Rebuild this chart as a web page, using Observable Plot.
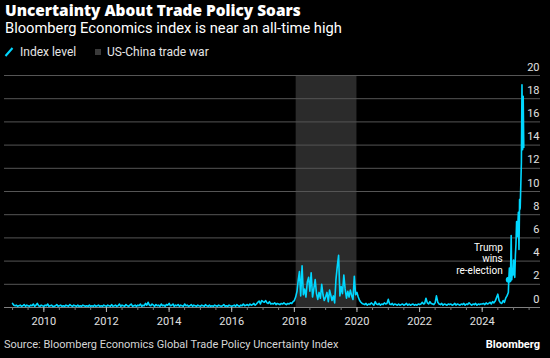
<!DOCTYPE html>
<html><head><meta charset="utf-8">
<script src="https://cdn.jsdelivr.net/npm/d3@7"></script>
<script src="https://cdn.jsdelivr.net/npm/@observablehq/plot@0.6"></script>
<style>
html,body{margin:0;padding:0;background:#000;}
#root{position:relative;width:550px;height:358px;background:#000;overflow:hidden;font-family:Roboto,"Noto Sans",sans-serif;color:#fff;}
.t{position:absolute;white-space:nowrap;}
#title{left:5px;top:2px;font-family:"Open Sans",Roboto,sans-serif;font-size:15.4px;font-weight:800;line-height:18px;}
#sub{left:5px;top:20px;font-size:14.7px;line-height:17px;}
.leg{top:45px;font-size:12px;line-height:14px;color:#e6e6e6;}
#chart{position:absolute;left:0;top:62px;}
#source{left:4px;top:338px;font-size:11px;line-height:13px;color:#d6d6d6;}
#brand{right:10px;top:338px;font-size:11px;line-height:13px;font-weight:700;color:#fff;}
</style></head>
<body>
<div id="root">
  <div id="title" class="t">Uncertainty About Trade Policy Soars</div>
  <div id="sub" class="t">Bloomberg Economics index is near an all-time high</div>
  <svg class="t" style="left:4px;top:47px" width="10" height="10"><line x1="1.5" y1="9" x2="8.5" y2="1" stroke="#00d7ff" stroke-width="2"/></svg>
  <div class="t leg" style="left:20px">Index level</div>
  <div class="t" style="left:95px;top:49px;width:6px;height:6px;background:#3a3a3a"></div>
  <div class="t leg" style="left:107px">US-China trade war</div>
  <div id="chart"></div>
  <div id="source" class="t">Source: Bloomberg Economics Global Trade Policy Uncertainty Index</div>
  <div id="brand" class="t">Bloomberg</div>
</div>
<script>
// Semi-monthly readings (1st and 16th of each month)
const v2009 = [0.35,0.2,0.15,0.2,0.1,0.15,0.2,0.1,0.15,0.25,0.1,0.2,0.15,0.1,0.2,0.15,0.3,0.1,0.2,0.35,0.15,0.1,0.2,0.15];
const v2010 = [0.1,0.2,0.15,0.3,0.1,0.15,0.2,0.1,0.1,0.15,0.25,0.1,0.15,0.2,0.1,0.15,0.1,0.2,0.15,0.1,0.25,0.15,0.1,0.2];
const v2011 = [0.15,0.1,0.2,0.1,0.15,0.1,0.2,0.15,0.1,0.15,0.1,0.2,0.1,0.15,0.1,0.2,0.1,0.15,0.2,0.1,0.15,0.1,0.2,0.15];
const v2012 = [0.1,0.2,0.15,0.1,0.25,0.1,0.15,0.2,0.1,0.15,0.3,0.1,0.2,0.15,0.1,0.25,0.15,0.1,0.2,0.3,0.1,0.15,0.2,0.1];
const v2013 = [0.2,0.15,0.3,0.1,0.2,0.15,0.35,0.2,0.45,0.2,0.15,0.3,0.2,0.1,0.25,0.15,0.2,0.1,0.3,0.15,0.2,0.1,0.25,0.2];
const v2014 = [0.35,0.15,0.2,0.3,0.1,0.2,0.15,0.25,0.1,0.2,0.15,0.1,0.3,0.15,0.2,0.1,0.15,0.25,0.1,0.2,0.15,0.1,0.2,0.15];
const v2015 = [0.1,0.2,0.15,0.1,0.25,0.15,0.1,0.2,0.1,0.15,0.1,0.2,0.15,0.1,0.2,0.15,0.1,0.15,0.25,0.1,0.15,0.1,0.2,0.15];
const v2016 = [0.1,0.15,0.2,0.1,0.25,0.15,0.1,0.2,0.15,0.3,0.15,0.2,0.25,0.15,0.3,0.2,0.25,0.35,0.2,0.3,0.45,0.55,0.3,0.6];
const v2017 = [0.5,0.45,0.6,0.4,0.35,0.5,0.3,0.35,0.3,0.4,0.25,0.35,0.3,0.25,0.35,0.3,0.4,0.3,0.25,0.35,0.3,0.4,0.35,0.5];
const v2018 = [0.6,0.9,1.4,2.4,3.1,1.0,3.6,1.1,1.6,0.9,2.2,2.6,1.4,3.0,0.9,1.6,2.4,1.2,0.7,1.3,0.8,2.0,1.1,0.6];
const v2019 = [0.9,1.3,0.5,1.5,1.1,0.6,1.0,0.4,2.4,3.5,4.5,1.0,1.8,1.2,2.8,1.6,0.8,1.4,0.9,1.5,1.0,0.7,2.7,1.1];
const v2020 = [1.3,0.9,0.6,0.45,0.35,0.3,0.25,0.35,0.2,0.3,0.25,0.4,0.3,0.2,0.5,0.3,0.25,0.35,0.2,0.3,0.25,0.4,0.3,0.35];
const v2021 = [0.7,0.3,0.25,0.35,0.2,0.3,0.25,0.2,0.3,0.2,0.25,0.3,0.2,0.25,0.35,0.2,0.3,0.2,0.25,0.3,0.2,0.25,0.2,0.3];
const v2022 = [0.25,0.3,0.45,0.3,0.35,0.8,0.4,0.3,0.5,0.35,0.3,0.25,0.4,1.0,0.45,0.3,0.25,0.35,0.2,0.3,0.25,0.2,0.3,0.25];
const v2023 = [0.3,0.2,0.25,0.35,0.2,0.3,0.25,0.2,0.3,0.25,0.35,0.2,0.3,0.25,0.4,0.3,0.2,0.3,0.25,0.35,0.2,0.3,0.25,0.3];
const v2024 = [0.3,0.35,0.25,0.4,0.3,0.35,0.45,0.3,0.5,0.4,0.55,0.85,1.15,0.6,0.4,0.35,0.6,0.45,0.8,1.0,1.3];
const yearArrays = [[2009,v2009],[2010,v2010],[2011,v2011],[2012,v2012],[2013,v2013],[2014,v2014],[2015,v2015],[2016,v2016],[2017,v2017],[2018,v2018],[2019,v2019],[2020,v2020],[2021,v2021],[2022,v2022],[2023,v2023],[2024,v2024]];

// Weekly readings after the US election
const finalDates = ["2024-11-06","2024-11-13","2024-11-20","2024-11-27","2024-12-04","2024-12-11","2024-12-18","2024-12-25","2025-01-01","2025-01-08","2025-01-15","2025-01-22","2025-01-29","2025-02-05","2025-02-12","2025-02-19","2025-02-26","2025-03-05","2025-03-12","2025-03-19","2025-03-26","2025-04-02","2025-04-09","2025-04-16","2025-04-23","2025-04-30"];
const finalValues = [2.4,3.4,2.6,3.0,6.2,2.4,3.2,2.8,4.1,3.0,2.6,4.5,5.5,7.4,6.1,7.0,8.2,5.0,9.3,8.5,10.5,12.5,19.2,13.6,18.2,13.8];

const tradeWarStart = "2018-01-22";
const tradeWarEnd = "2020-01-01";
const annotationDate = "2024-11-06";
const annotationValue = 2.4;
const annotationText = "Trump\nwins\nre-election";
const yTicks = [0,2,4,6,8,10,12,14,16,18,20];
const labelYears = [2010,2012,2014,2016,2018,2020,2022,2024];

const data = [];
for (const [yr, arr] of yearArrays) {
  arr.forEach((v, i) => data.push({date: new Date(Date.UTC(yr, Math.floor(i / 2), i % 2 ? 16 : 1)), value: v}));
}
finalDates.forEach((d, i) => data.push({date: new Date(d), value: finalValues[i]}));

const xDomain = [new Date(Date.UTC(2008, 8, 29)), new Date(Date.UTC(2025, 10, 11))];
const minorTicks = d3.utcMonth.every(6).range(new Date(Date.UTC(2009,0,1)), new Date(Date.UTC(2025,7,1)));
const majorTicks = labelYears.map(y => new Date(Date.UTC(y, 0, 1)));
const cyan = "#00d7ff";

const chart = Plot.plot({
  width: 550, height: 270,
  marginTop: 13, marginBottom: 25, marginLeft: 4, marginRight: 10,
  style: {background: "#000", color: "#e0e0e0", fontFamily: "Roboto, sans-serif", fontSize: "11px", overflow: "visible"},
  x: {type: "utc", domain: xDomain, label: null},
  y: {domain: [0, 20], label: null},
  marks: [
    Plot.rect([{s: new Date(tradeWarStart), e: new Date(tradeWarEnd)}], {x1: "s", x2: "e", y1: 0, y2: 20, fill: "#2b2b2b"}),
    Plot.gridY(yTicks.filter(d => d > 0), {stroke: "#555", strokeOpacity: 1}),
    Plot.ruleY([0], {stroke: "#808080"}),
    Plot.axisX(minorTicks, {tickSize: 3, tickFormat: () => "", stroke: "#777"}),
    Plot.axisX(majorTicks, {tickSize: 5, tickPadding: 5, tickFormat: "%Y", stroke: "#bbb", fill: "#e0e0e0"}),
    Plot.axisY(yTicks, {anchor: "right", tickSize: 0, tickPadding: 0, textAnchor: "end", dx: -1, dy: -8.5, fill: "#e0e0e0"}),
    Plot.line(data, {x: "date", y: "value", stroke: cyan, strokeWidth: 1.6}),
    Plot.dot([{date: new Date(annotationDate), value: annotationValue}], {x: "date", y: "value", r: 3, fill: cyan}),
    Plot.text([{date: new Date(annotationDate), value: annotationValue, t: annotationText}], {x: "date", y: "value", text: "t", textAnchor: "end", lineAnchor: "bottom", dx: -6, dy: -6, fill: "#fff", fontSize: 10, lineHeight: 1.12})
  ]
});
document.getElementById("chart").appendChild(chart);
</script>
</body></html>
